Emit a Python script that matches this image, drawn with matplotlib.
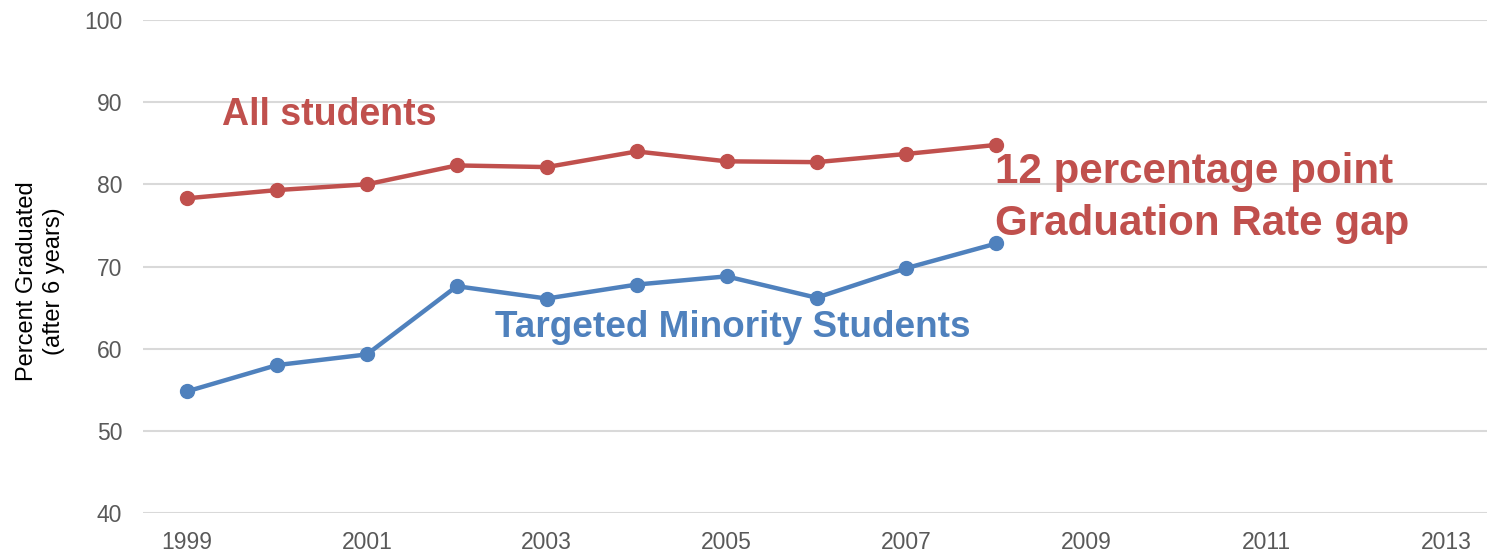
import numpy as np
import matplotlib.pyplot as plt

plt.rcParams['font.family'] = ['Liberation Sans', 'DejaVu Sans']

years = [1999, 2000, 2001, 2002, 2003, 2004, 2005, 2006, 2007, 2008]
all_students = [78.3, 79.3, 80.0, 82.3, 82.1, 84.0, 82.8, 82.7, 83.7, 84.8]
minority = [54.8, 58.0, 59.3, 67.6, 66.1, 67.8, 68.8, 66.2, 69.8, 72.8]
xticks = [1999, 2001, 2003, 2005, 2007, 2009, 2011, 2013]
yticks = [40, 50, 60, 70, 80, 90, 100]

red = "#C0504D"
blue = "#4F81BD"

fig = plt.figure(figsize=(14.87, 5.55), dpi=100)
# axes placed in pixels: x 143..1487, y 20..513
ax = fig.add_axes([143 / 1487, 42 / 555, 1344 / 1487, 493 / 555])

ax.plot(years, all_students, color=red, lw=3.2, marker="o", ms=10, zorder=3)
ax.plot(years, minority, color=blue, lw=3.2, marker="o", ms=10, zorder=3)

px = (1446 - 187) / 14  # pixels per year
ax.set_xlim(1999 - 44 / px, 2013 + 41 / px)
ax.set_ylim(40, 100)
ax.set_xticks(xticks)
ax.set_yticks(yticks)
ax.tick_params(length=0, labelsize=16.5, colors="#595959")
ax.tick_params(axis="y", pad=15)
ax.tick_params(axis="x", pad=13)
ax.grid(axis="y", color="#D9D9D9", lw=1.5)
ax.set_axisbelow(True)
for s in ax.spines.values():
    s.set_visible(False)

ax.set_ylabel("Percent Graduated\n(after 6 years)", fontsize=17, color="black", linespacing=1.3)
ax.yaxis.set_label_coords(-0.058, 0.47)

ax.text(1999.39, 87.2, "All students", color=red, fontsize=27, fontweight="bold", va="baseline")
ax.text(2007.98, 80.16, "12 percentage point", color=red, fontsize=30.3, fontweight="bold", va="baseline")
ax.text(2007.98, 73.83, "Graduation Rate gap", color=red, fontsize=30.3, fontweight="bold", va="baseline")
ax.text(2002.42, 61.42, "Targeted Minority Students", color=blue, fontsize=26.6, fontweight="bold", va="baseline")

fig.savefig("out.png", dpi=100)
